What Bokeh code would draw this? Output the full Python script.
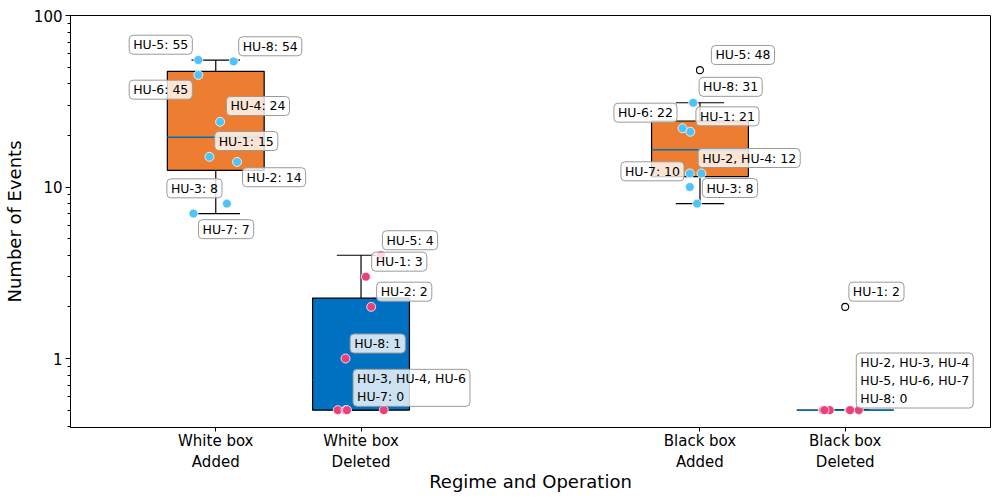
import numpy as np
from bokeh.plotting import figure
from bokeh.models import Range1d, FixedTicker, ColumnDataSource, BasicTickFormatter
from bokeh.embed import file_html
from bokeh.resources import INLINE
from bokeh.core.properties import value

# ---------------- data ----------------
units = ["HU-1", "HU-2", "HU-3", "HU-4", "HU-5", "HU-6", "HU-7", "HU-8"]
categories = ["White box\nAdded", "White box\nDeleted", "Black box\nAdded", "Black box\nDeleted"]
operations = ["Added", "Deleted", "Added", "Deleted"]
positions = [0.0, 0.3, 1.0, 1.3]

white_added = [15, 14, 8, 24, 55, 45, 7, 54]
white_deleted = [3, 2, 0, 0, 4, 0, 0, 1]
black_added = [21, 12, 8, 12, 48, 22, 10, 31]
black_deleted = [2, 0, 0, 0, 0, 0, 0, 0]
series = [white_added, white_deleted, black_added, black_deleted]

zero_floor = 0.5  # zeros are drawn at 0.5 on the log axis

# horizontal strip jitter (data units), per category, per unit
jitter = [
    [-0.013, 0.044, 0.023, 0.009, -0.036, -0.036, -0.046, 0.037],
    [0.010, 0.021, -0.048, -0.032, 0.041, 0.047, -0.029, -0.032],
    [-0.020, -0.021, -0.006, 0.003, 0.0, -0.036, -0.021, -0.014],
    [0.0, -0.046, -0.032, 0.008, 0.012, 0.028, -0.043, 0.010],
]

# label placement (screen px offsets of label centre from the box centre / value)
label_offsets = {
    (0, 55): (-55, -15.3), (0, 54): (54.5, -15.1), (0, 45): (-55, 14.7),
    (0, 24): (42.2, -15.8), (0, 15): (30.5, -15.8), (0, 14): (58.3, 15.3),
    (0, 8): (-21.3, -15.3), (0, 7): (10.3, 15.6),
    (1, 4): (49, -15), (1, 3): (38.2, -15), (1, 2): (43.2, -15.2),
    (1, 1): (16.7, -15), (1, 0): (50.5, -22.3),
    (2, 48): (43, -15.2), (2, 31): (30.7, -15.9), (2, 22): (-54.5, -15.6),
    (2, 21): (27.5, -15.4), (2, 12): (49.2, -15.4), (2, 10): (-47.5, -15.7),
    (2, 8): (30, -15.6),
    (3, 2): (31.2, -15.2), (3, 0): (69.5, -29.6),
}

BOX_COLORS = {"Added": "#ED7D31", "Deleted": "#0070C0"}
DOT_COLORS = {"Added": "#4FC3F7", "Deleted": "#EC407A"}
MEDIAN_COLOR = "#0070C0"
FONT = "DejaVu Sans"

p = figure(frame_width=920, frame_height=412,
           x_range=Range1d(-0.3, 1.6), y_range=Range1d(0.396, 100),
           y_axis_type="log", output_backend="svg", toolbar_location=None,
           min_border_left=61, min_border_top=15, min_border_right=4, min_border_bottom=66)

box_w = 0.2
cap_w = 0.1

for ci, (pos, op, vals) in enumerate(zip(positions, operations, series)):
    plotted = np.array([v if v > 0 else zero_floor for v in vals], dtype=float)
    q1, med, q3 = np.percentile(plotted, [25, 50, 75])
    iqr = q3 - q1
    lo_f, hi_f = q1 - 1.5 * iqr, q3 + 1.5 * iqr
    inside = plotted[(plotted >= lo_f) & (plotted <= hi_f)]
    w_lo, w_hi = inside.min(), inside.max()
    is_out = (plotted < lo_f) | (plotted > hi_f)

    # whiskers
    p.segment(x0=[pos, pos], y0=[q3, q1], x1=[pos, pos], y1=[w_hi, w_lo],
              line_color="black", line_width=1.2)
    p.segment(x0=[pos - cap_w / 2] * 2, y0=[w_hi, w_lo], x1=[pos + cap_w / 2] * 2, y1=[w_hi, w_lo],
              line_color="black", line_width=1.2)
    # box
    p.quad(left=[pos - box_w / 2], right=[pos + box_w / 2], bottom=[q1], top=[q3],
           fill_color=BOX_COLORS[op], line_color="black", line_width=1.2)
    # median
    p.segment(x0=[pos - box_w / 2], y0=[med], x1=[pos + box_w / 2], y1=[med],
              line_color=MEDIAN_COLOR, line_width=1.5)
    # outliers
    if is_out.any():
        p.scatter(x=[pos] * int(is_out.sum()), y=plotted[is_out], size=7,
                  marker="circle", fill_color="white", line_color="black", line_width=1.1)
    # strip points
    xs = [pos + j for j, o in zip(jitter[ci], is_out) if not o]
    ys = [v for v, o in zip(plotted, is_out) if not o]
    p.scatter(x=xs, y=ys, size=9, marker="circle", fill_color=DOT_COLORS[op],
              line_color="white", line_width=0.8)

# labels (grouped by equal values)
lx, ly, lt, ldx, ldy = [], [], [], [], []
for ci, (pos, vals) in enumerate(zip(positions, series)):
    groups = {}
    for u, v in zip(units, vals):
        groups.setdefault(v, []).append(u)
    for v, names in groups.items():
        lines = [", ".join(names[i:i + 3]) for i in range(0, len(names), 3)]
        text = "\n".join(lines) + f": {v}"
        dx, dy = label_offsets[(ci, v)]
        lx.append(pos)
        ly.append(v if v > 0 else zero_floor)
        lt.append(text)
        ldx.append(dx)
        ldy.append(dy)

lsrc = ColumnDataSource(dict(x=lx, y=ly, text=lt, dx=ldx, dy=ldy))
p.text(x="x", y="y", text="text", x_offset="dx", y_offset="dy", source=lsrc,
       anchor="center", text_align="left", text_font=value(FONT), text_font_size="12.5px",
       text_color="black", text_line_height=1.2,
       background_fill_color="white", background_fill_alpha=0.8,
       border_line_color="#9a9a9a", border_line_width=1, border_radius=4,
       padding=dict(left=4, right=4, top=2, bottom=2))

# axes
p.xgrid.visible = False
p.ygrid.visible = False
p.outline_line_color = "black"
p.outline_line_alpha = 1
p.outline_line_width = 1

p.xaxis.ticker = FixedTicker(ticks=positions)
p.xaxis.major_label_overrides = {pos: lab for pos, lab in zip(positions, categories)}
p.yaxis.ticker = FixedTicker(ticks=[1, 10, 100],
                             minor_ticks=[0.4, 0.5, 0.6, 0.7, 0.8, 0.9] + list(range(2, 10)) + list(range(20, 100, 10)))
p.yaxis.formatter = BasicTickFormatter()

p.xaxis.axis_label = "Regime and Operation"
p.yaxis.axis_label = "Number of Events"
for ax in (p.xaxis[0], p.yaxis[0]):
    ax.axis_label_text_font = FONT
    ax.axis_label_text_font_size = "18px"
    ax.axis_label_text_font_style = "normal"
    ax.axis_label_text_color = "black"
    ax.major_label_text_font = FONT
    ax.major_label_text_font_size = "15px"
    ax.major_label_text_color = "black"
    ax.axis_line_color = "black"
    ax.major_tick_line_color = "black"
    ax.minor_tick_line_color = "black"
    ax.major_tick_in = 0
    ax.major_tick_out = 5
    ax.minor_tick_in = 0
    ax.minor_tick_out = 3
    ax.major_label_standoff = 3
    ax.axis_label_standoff = 6

p.xaxis[0].major_tick_out = 4
p.xaxis[0].major_label_standoff = 0
p.xaxis[0].axis_label_standoff = -3

open("out.html", "w").write(file_html(p, INLINE))
